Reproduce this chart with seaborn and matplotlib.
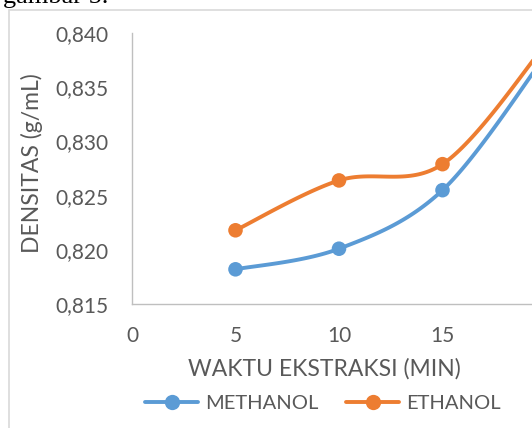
import matplotlib.pyplot as plt
import numpy as np
import pandas as pd
import seaborn as sns
from matplotlib.lines import Line2D
from matplotlib.patches import Rectangle
from matplotlib.ticker import FuncFormatter

# data (point at 20 lies past the cropped right edge)
waktu = [5, 10, 15, 20]
methanol = [0.8182, 0.8201, 0.8255, 0.8380]
ethanol = [0.8218, 0.8264, 0.8279, 0.8390]
series_names = ["METHANOL", "ETHANOL"]
colors = {"METHANOL": "#5B9BD5", "ETHANOL": "#ED7D31"}

df = pd.DataFrame({
    "waktu": waktu * 2,
    "densitas": methanol + ethanol,
    "pelarut": ["METHANOL"] * len(waktu) + ["ETHANOL"] * len(waktu),
})

sns.set_theme(style="white")
plt.rcParams["font.family"] = ["Lato", "DejaVu Sans"]

text_color = "#595959"
axis_color = "#BFBFBF"


def smooth(x, y, n=40):
    # excel-like smoothed line: cubic bezier with catmull-rom control points
    x = np.asarray(x, float)
    y = np.asarray(y, float)
    px = np.concatenate([[x[0]], x, [x[-1]]])
    py = np.concatenate([[y[0]], y, [y[-1]]])
    xs, ys = [], []
    t = np.linspace(0, 1, n)
    for i in range(1, len(px) - 2):
        p0 = np.array([px[i], py[i]])
        p3 = np.array([px[i + 1], py[i + 1]])
        c1 = p0 + (np.array([px[i + 1], py[i + 1]]) - np.array([px[i - 1], py[i - 1]])) / 6
        c2 = p3 - (np.array([px[i + 2], py[i + 2]]) - np.array([px[i], py[i]])) / 6
        pts = ((1 - t) ** 3)[:, None] * p0 + (3 * (1 - t) ** 2 * t)[:, None] * c1 \
            + (3 * (1 - t) * t ** 2)[:, None] * c2 + (t ** 3)[:, None] * p3
        xs.extend(pts[:, 0])
        ys.extend(pts[:, 1])
    return np.array(xs), np.array(ys)


fig = plt.figure(figsize=(5.32, 4.28), dpi=100)
ax = fig.add_axes([132 / 532, 124 / 428, 414 / 532, 271 / 428])

for name in series_names:
    sub = df[df["pelarut"] == name]
    sx, sy = smooth(sub["waktu"], sub["densitas"])
    ax.plot(sx, sy, color=colors[name], lw=2.8, solid_capstyle="round", zorder=2)

sns.scatterplot(data=df, x="waktu", y="densitas", hue="pelarut", palette=colors,
                s=110, edgecolor="none", legend=False, zorder=3, ax=ax, clip_on=False)

ax.set_xlim(0, 20)
ax.set_ylim(0.815, 0.840)
ax.set_xticks([0, 5, 10, 15])
ax.set_yticks([0.815, 0.820, 0.825, 0.830, 0.835, 0.840])
ax.yaxis.set_major_formatter(FuncFormatter(lambda v, p: f"{v:.3f}".replace(".", ",")))
ax.tick_params(axis="both", length=0, labelsize=15, colors=text_color)
ax.tick_params(axis="y", pad=17)
ax.tick_params(axis="x", pad=16)

for side in ["top", "right"]:
    ax.spines[side].set_visible(False)
for side in ["left", "bottom"]:
    ax.spines[side].set_color(axis_color)
    ax.spines[side].set_linewidth(1.0)

ax.set_xlabel("WAKTU EKSTRAKSI (MIN)", fontsize=16.5, color=text_color)
ax.set_ylabel("DENSITAS (g/mL)", fontsize=16.5, color=text_color)
ax.xaxis.set_label_coords(192 / 414, -54 / 271)
ax.yaxis.set_label_coords(-89 / 414, 141 / 271)

handles = [Line2D([0], [0], color=colors[n], lw=2.8, marker="o", markersize=11,
                  markeredgewidth=0) for n in series_names]
fig.legend(handles, series_names, loc="center", bbox_to_anchor=(323 / 532, 1 - 403 / 428),
           ncol=2, frameon=False, fontsize=14.5, labelcolor=text_color,
           handlelength=2.6, handletextpad=0.35, columnspacing=1.4)

# outer chart border (cropped on right and bottom)
fig.patches.append(Rectangle((9 / 532, -0.1), 1.2, (428 - 9.5) / 428 + 0.1,
                             transform=fig.transFigure, fill=False,
                             edgecolor="#D9D9D9", lw=1.2))

# caption text cut off at the top of the crop
fig.text(3 / 532, 1 - 3 / 428, "gambar 5.", family="Liberation Serif", fontsize=19,
         color="black", va="baseline", ha="left")

fig.savefig("out.png", dpi=100)
